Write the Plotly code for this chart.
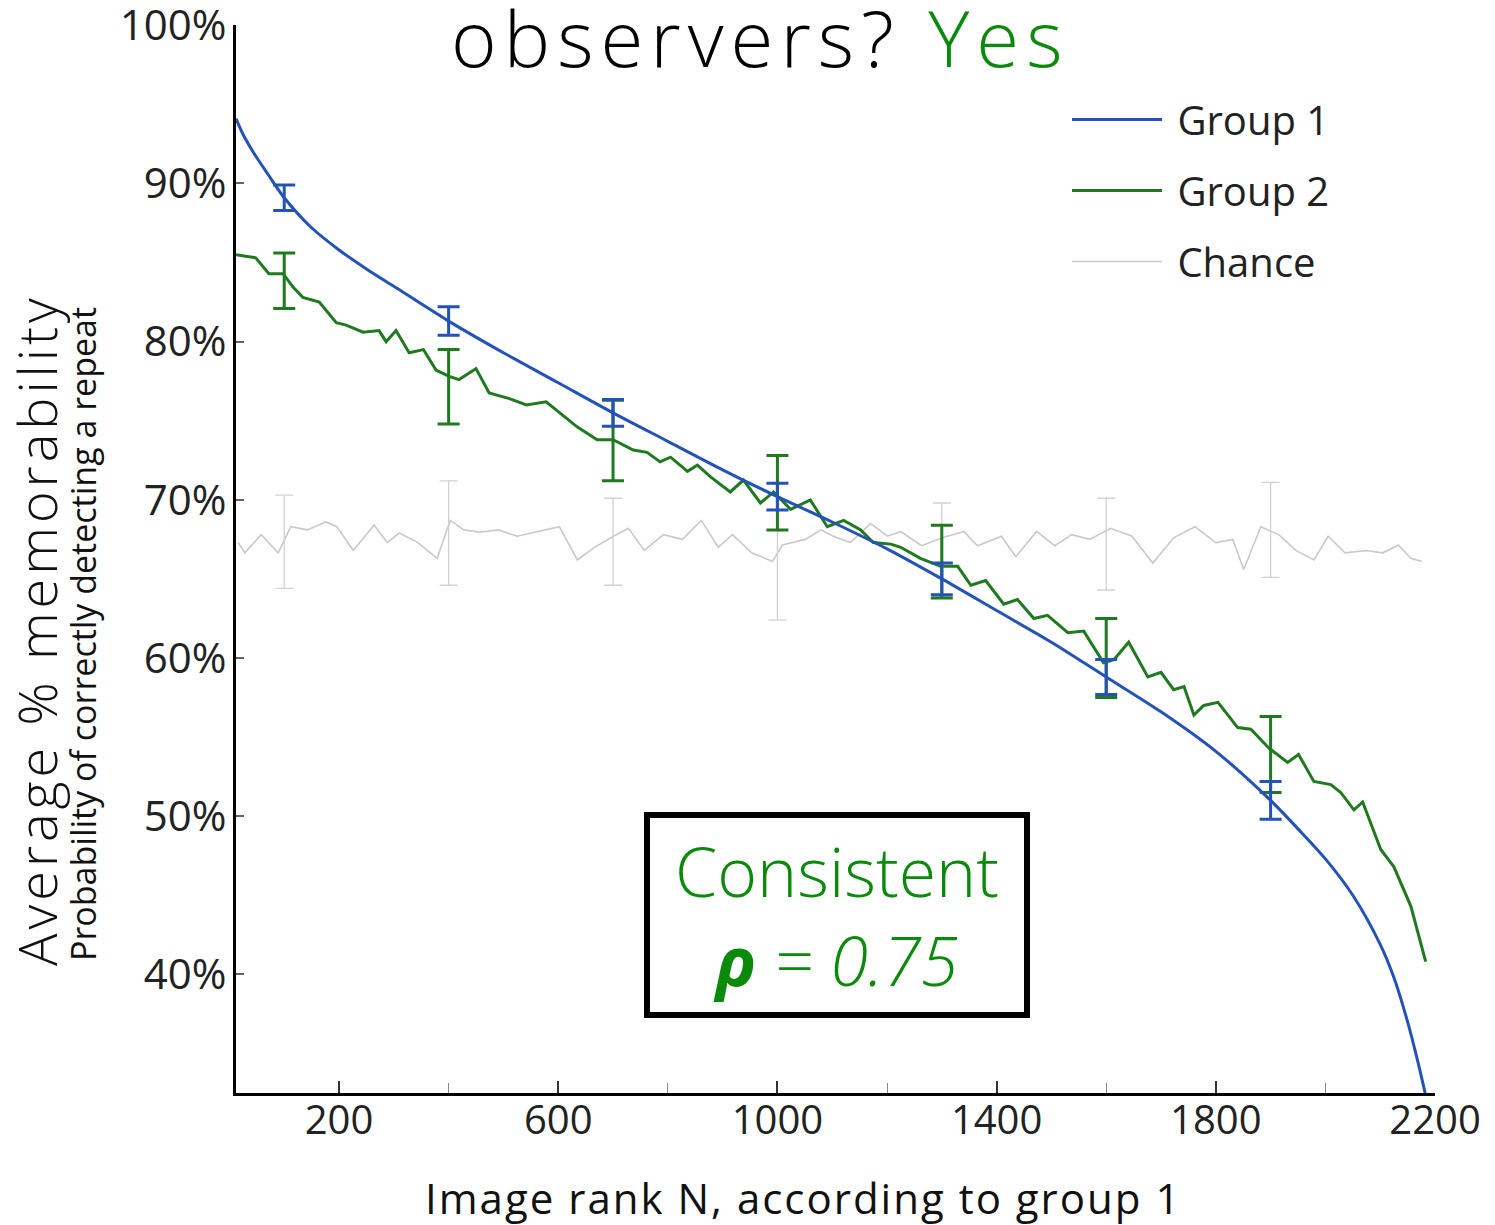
import plotly.graph_objects as go

# ---------------- data ----------------
rank_g1 = [12, 25, 45, 70, 100, 150, 200, 250, 300, 400, 500, 600, 700, 800, 900, 1000,
           1100, 1200, 1300, 1400, 1500, 1600, 1700, 1800, 1900, 1950, 2000, 2050, 2100,
           2125, 2150, 2170, 2182]
mem_g1 = [94.1, 93.1, 91.9, 90.6, 89.1, 87.2, 85.8, 84.6, 83.5, 81.3, 79.3, 77.4, 75.5,
          73.7, 71.9, 70.2, 68.6, 66.9, 65.0, 63.0, 61.0, 58.8, 56.6, 54.1, 51.0, 49.2,
          47.3, 45.0, 41.9, 39.8, 37.0, 34.3, 32.5]

rank_g2 = [12, 30, 48, 72, 98, 116, 134, 164, 195, 213, 244, 273, 286, 304, 328, 354,
           377, 401, 419, 450, 474, 511, 542, 578, 600, 615, 635, 671, 700, 737, 762,
           786, 805, 836, 854, 878, 914, 938, 969, 993, 1024, 1060, 1091, 1121, 1152,
           1175, 1207, 1225, 1261, 1298, 1329, 1353, 1380, 1413, 1438, 1468, 1493,
           1530, 1559, 1595, 1614, 1641, 1676, 1700, 1723, 1742, 1760, 1778, 1804,
           1840, 1864, 1897, 1931, 1951, 1979, 2010, 2028, 2052, 2068, 2101, 2125,
           2156, 2183]
mem_g2 = [85.5, 85.4, 85.3, 84.3, 84.3, 83.45, 82.8, 82.5, 81.2, 81.05, 80.6, 80.7, 80.0,
          80.7, 79.3, 79.5, 78.2, 77.8, 77.6, 78.3, 76.75, 76.4, 76.0, 76.2, 75.6, 75.2,
          74.6, 73.8, 73.8, 73.15, 73.0, 72.4, 72.7, 71.8, 72.2, 71.45, 70.5, 71.25,
          69.8, 70.5, 69.4, 70.0, 68.3, 68.7, 68.1, 67.3, 67.2, 67.0, 66.3, 65.8, 65.8,
          64.6, 64.9, 63.4, 63.7, 62.5, 62.7, 61.6, 61.7, 59.7, 59.9, 61.0, 58.8, 59.1,
          58.0, 58.2, 56.4, 57.0, 57.2, 55.6, 55.5, 54.3, 53.4, 53.9, 52.2, 52.0, 51.5,
          50.4, 50.9, 47.9, 46.8, 44.3, 40.8]

rank_chance = [16, 28, 58, 89, 112, 142, 176, 196, 226, 264, 288, 310, 344, 379, 403,
               428, 456, 490, 525, 562, 602, 635, 666, 701, 728, 757, 792, 827, 861,
               892, 918, 953, 991, 1009, 1051, 1079, 1102, 1133, 1170, 1201, 1225,
               1263, 1301, 1340, 1365, 1409, 1435, 1473, 1506, 1537, 1570, 1608, 1647,
               1685, 1723, 1762, 1800, 1831, 1851, 1882, 1915, 1946, 1979, 2005, 2036,
               2074, 2105, 2133, 2156, 2176]
mem_chance = [67.3, 66.65, 67.8, 66.65, 68.3, 68.1, 68.6, 68.3, 66.8, 68.4, 67.3, 67.9,
              67.3, 66.3, 68.7, 68.1, 67.95, 68.1, 67.7, 68.0, 68.3, 66.2, 67.0, 67.7,
              68.2, 66.8, 67.8, 67.5, 68.7, 67.0, 67.8, 66.65, 66.1, 67.15, 67.5, 68.1,
              67.7, 67.3, 68.5, 67.7, 68.0, 67.1, 67.6, 68.0, 67.1, 67.7, 66.4, 68.0,
              67.1, 67.8, 67.5, 68.2, 67.7, 66.0, 67.6, 68.3, 67.3, 67.5, 65.6, 68.3,
              67.8, 66.8, 66.2, 67.7, 66.65, 66.8, 66.65, 67.15, 66.3, 66.1]

err_rank = [100, 400, 700, 1000, 1300, 1600, 1900]
err_g1_mid = [89.1, 81.3, 75.5, 70.2, 65.0, 58.8, 51.0]
err_g1 = [0.8, 0.9, 0.85, 0.85, 1.0, 1.1, 1.2]
err_g2_mid = [83.85, 77.15, 73.75, 70.45, 66.1, 60.0, 53.9]
err_g2 = [1.75, 2.35, 2.55, 2.35, 2.3, 2.5, 2.4]
err_ch_mid = [67.35, 67.9, 67.35, 65.9, 66.85, 67.2, 68.1]
err_ch = [2.95, 3.3, 2.75, 3.5, 2.95, 2.9, 3.0]

x_ticks = [200, 600, 1000, 1400, 1800, 2200]
y_ticks = [40, 50, 60, 70, 80, 90, 100]
y_ticktext = ["40%", "50%", "60%", "70%", "80%", "90%", "100%"]

BLUE = "#2352b8"
GREEN = "#1f7a1f"
GRAY = "#c9c9c9"
TXT_GREEN = "#0a8a0a"
NB = "\u00a0"

fig = go.Figure()

# chance
fig.add_trace(go.Scatter(x=rank_chance, y=mem_chance, mode="lines", name=NB + "Chance",
                         line=dict(color=GRAY, width=1.6), legendrank=3, legendgroup="c"))
fig.add_trace(go.Scatter(x=err_rank, y=err_ch_mid, mode="markers", showlegend=False,
                         marker=dict(size=1, color="rgba(0,0,0,0)"), hoverinfo="skip",
                         error_y=dict(type="data", array=err_ch, color="#d2d2d2",
                                      thickness=1.3, width=9)))
# group 2
fig.add_trace(go.Scatter(x=rank_g2, y=mem_g2, mode="lines", name=NB + "Group 2",
                         line=dict(color=GREEN, width=3), legendrank=2, legendgroup="g2"))
fig.add_trace(go.Scatter(x=err_rank, y=err_g2_mid, mode="markers", showlegend=False,
                         marker=dict(size=1, color="rgba(0,0,0,0)"), hoverinfo="skip",
                         error_y=dict(type="data", array=err_g2, color=GREEN,
                                      thickness=3, width=11)))
# group 1
fig.add_trace(go.Scatter(x=rank_g1, y=mem_g1, mode="lines", name=NB + "Group 1",
                         line=dict(color=BLUE, width=3, shape="spline", smoothing=0.8),
                         legendrank=1, legendgroup="g1"))
fig.add_trace(go.Scatter(x=err_rank, y=err_g1_mid, mode="markers", showlegend=False,
                         marker=dict(size=1, color="rgba(0,0,0,0)"), hoverinfo="skip",
                         error_y=dict(type="data", array=err_g1, color=BLUE,
                                      thickness=3, width=11)))

FW, FH = 1495, 1225
L, R, T, B = 236, 1435, 25, 1093  # pixel positions of plot area
W, H = R - L, B - T


def px(x):
    return (x - L) / W


def py(y):
    return (B - y) / H


fig.update_layout(
    width=FW, height=FH,
    margin=dict(l=L, r=FW - R, t=T, b=FH - B, autoexpand=False),
    paper_bgcolor="white", plot_bgcolor="white",
    showlegend=True,
    legend=dict(x=px(1067), y=py(87), xanchor="left", yanchor="top",
                font=dict(family="Open Sans", size=40, color="#222"),
                itemwidth=90, tracegroupgap=16, bgcolor="rgba(0,0,0,0)"),
    xaxis=dict(range=[12, 2200], showgrid=False, zeroline=False, showline=True,
               automargin=False,
               linecolor="black", linewidth=3, ticks="inside", ticklen=12,
               tickwidth=2, tickcolor="#333", tickvals=x_ticks,
               tickfont=dict(family="Open Sans", size=40, color="#222"),
               ticklabelstandoff=-10, ticklabeloverflow="allow",
               minor=dict(ticks="inside", tick0=0, dtick=200, ticklen=10,
                          tickcolor="#888", tickwidth=1)),
    yaxis=dict(range=[32.5, 100.02], showgrid=False, zeroline=False, showline=True,
               automargin=False,
               linecolor="black", linewidth=3, ticks="inside", ticklen=8,
               tickwidth=1.5, tickcolor="#666", tickvals=y_ticks, ticktext=y_ticktext,
               tickfont=dict(family="Open Sans", size=42, color="#222"),
               ticklabelstandoff=-2, ticklabeloverflow="allow"),
)

annotations = [
    dict(text="<span style='letter-spacing:7px'>observers? "
              "<span style='color:#0a8a0a'>Yes</span></span>",
         x=px(760), y=py(37),
         font=dict(family="Open Sans", size=78, color="black", weight=300)),
    dict(text="<span style='letter-spacing:4px'>Average % memorability</span>",
         x=px(36), y=py(630), textangle=-90,
         font=dict(family="Open Sans", size=54, color="#111", weight=300)),
    dict(text="Probability of correctly detecting a repeat", x=px(83), y=py(634),
         textangle=-90, font=dict(family="Open Sans", size=34, color="#111")),
    dict(text="<span style='letter-spacing:2px'>Image rank N, according to group 1</span>",
         x=px(803), y=py(1197),
         font=dict(family="Open Sans", size=42, color="#111")),
    dict(text="Consistent<br><b><i>ρ</i></b><i> = 0.75</i>", x=px(837.5), y=py(915),
         width=374, height=194, borderwidth=6, bordercolor="black", borderpad=0,
         bgcolor="white",
         font=dict(family="Open Sans", size=68, color=TXT_GREEN, weight=300)),
]
for a in annotations:
    a.update(xref="paper", yref="paper", showarrow=False, xanchor="center",
             yanchor="middle")
fig.update_layout(annotations=annotations)

fig.write_html("out.html", config={"displayModeBar": False},
               post_script="document.body.style.margin='0';")
